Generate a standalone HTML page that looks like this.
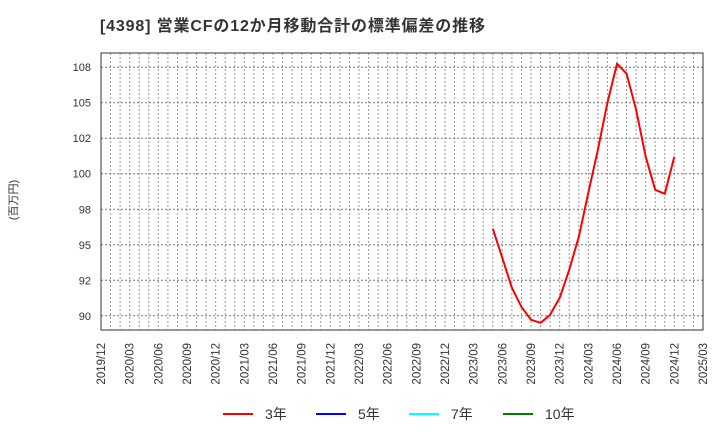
<!DOCTYPE html>
<html><head><meta charset="utf-8"><style>
body{margin:0;background:#fff;}
svg text{font-family:"Liberation Sans","Noto Sans CJK JP",sans-serif;fill:#333;}
</style></head><body>
<svg id="c" width="720" height="440">
<text x="100" y="31" font-size="16" font-weight="bold" textLength="385" lengthAdjust="spacing">[4398]  営業CFの12か月移動合計の標準偏差の推移</text>
<text transform="translate(17,200) rotate(-90)" font-size="11" text-anchor="middle">(百万円)</text>
<g id="grid"></g><g id="axes"></g><g id="series"></g>
<g font-size="14">
<g><line x1="223" y1="414" x2="253" y2="414" stroke="#ff0000" stroke-width="2"/><text x="265" y="419">3年</text></g>
<g><line x1="316" y1="414" x2="346" y2="414" stroke="#0000ff" stroke-width="2"/><text x="358" y="419">5年</text></g>
<g><line x1="409" y1="414" x2="439" y2="414" stroke="#00ffff" stroke-width="2"/><text x="451" y="419">7年</text></g>
<g><line x1="503" y1="414" x2="533" y2="414" stroke="#008000" stroke-width="2"/><text x="545" y="419">10年</text></g>
</g>
</svg>
<script>
const xTickLabels=["2019/12","2020/03","2020/06","2020/09","2020/12","2021/03","2021/06","2021/09","2021/12","2022/03","2022/06","2022/09","2022/12","2023/03","2023/06","2023/09","2023/12","2024/03","2024/06","2024/09","2024/12","2025/03"];
const yTicks=[90,92.5,95,97.5,100,102.5,105,107.5];
const yTickLabels=["90","92","95","98","100","102","105","108"];
const seriesStartMonth=41; // months after 2019/12 (2023/05)
const series3y=[96.13,94.08,91.97,90.63,89.72,89.51,90.07,91.27,93.24,95.56,98.66,101.69,105.0,107.75,107.04,104.5,101.2,98.87,98.59,101.2];
const L=101,R=703,T=53,B=330,yMin=89.0,yMax=108.5,nMonths=63;
const NS="http://www.w3.org/2000/svg";
const xs=m=>L+(R-L)*m/nMonths, ys=v=>B-(B-T)*(v-yMin)/(yMax-yMin);
function mk(tag,attrs,parent){const e=document.createElementNS(NS,tag);for(const k in attrs)e.setAttribute(k,attrs[k]);document.getElementById(parent).appendChild(e);return e;}
for(let m=1;m<nMonths;m++){const g=mk('line',{x1:xs(m),x2:xs(m),y1:T,y2:B,stroke:'#999','stroke-dasharray':'2,2','stroke-width':1},'grid');

}
yTicks.forEach((v,i)=>{const g=mk('line',{x1:L,x2:R,y1:ys(v),y2:ys(v),stroke:'#777','stroke-dasharray':'2,2','stroke-width':1},'grid');


const t=mk('text',{x:L-10,y:ys(v)+4,'font-size':11,'text-anchor':'end'},'axes');t.textContent=yTickLabels[i];

});
xTickLabels.forEach((s,i)=>{const x=xs(i*3);const t=mk('text',{transform:`translate(${x+4},343) rotate(-90)`,'font-size':11.5,'text-anchor':'end'},'axes');t.textContent=s;

});
const f=mk('rect',{x:L,y:T,width:R-L,height:B-T,fill:'none',stroke:'#333','stroke-width':1},'axes');


const pts=series3y.map((v,i)=>xs(seriesStartMonth+i).toFixed(1)+','+ys(v).toFixed(1)).join(' ');
const p=mk('polyline',{points:pts,fill:'none',stroke:'#ff0000','stroke-width':2,'stroke-linejoin':'round'},'series');


</script>
</body></html>
